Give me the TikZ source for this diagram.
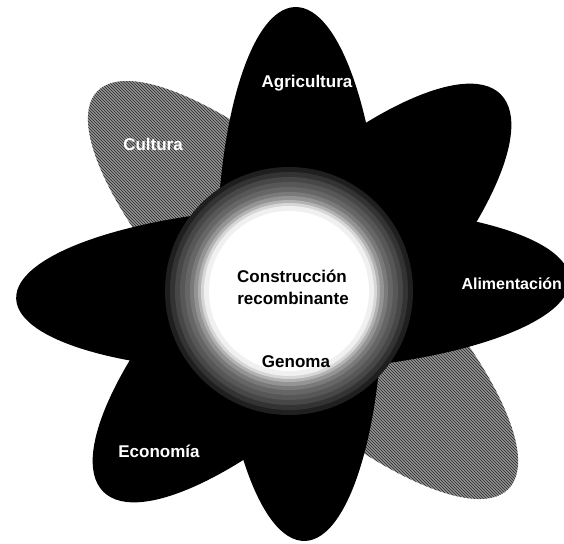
\documentclass[tikz,border=0pt]{standalone}
\usepackage{fontspec}
\setmainfont{Liberation Sans}
\usetikzlibrary{shapes.geometric,patterns}

\begin{document}
\begin{tikzpicture}[x=1pt,y=-1pt]

\tikzset{
  petal/.style={
    ellipse,
    fill=black,
    inner sep=0pt
  },
  hatchpetal/.style={
    ellipse,
    inner sep=0pt,
    preaction={fill=black!42},
    pattern=north west lines,
    pattern color=black!85
  },
  corering/.style={
    circle,
    inner sep=0pt,
    draw=none
  },
  whitelabel/.style={
    white,
    anchor=base,
    font=\fontsize{17}{20}\selectfont\bfseries
  },
  darklabel/.style={
    black,
    anchor=base,
    font=\fontsize{17}{20}\selectfont\bfseries
  }
}

% Page frame
\useasboundingbox (0,0) rectangle (564,543);

% Hatched petals (behind)
\node[hatchpetal, minimum width=572pt, minimum height=180pt, rotate=-44]
  (graydiag) at (303,290) {};

% Black petals
\node[petal, minimum width=534pt, minimum height=166pt, rotate=91]
  (vertical) at (300,274) {};
\node[petal, minimum width=554pt, minimum height=164pt, rotate=2]
  (horizontal) at (293,289) {};
\node[petal, minimum width=562pt, minimum height=186pt, rotate=45]
  (blackdiag) at (302,293) {};

% Centre disc, from the dark rim in to the white core
\foreach \r/\k in {124/88, 119/80, 114/72, 109/66, 104/60, 99/52,
                   95/42, 91/30, 88/16, 85/6, 80/0}{
  \node[corering, minimum size=2*\r pt, fill=black!\k]
    (core\r) at (289,291) {};
}

% Labels
\node[whitelabel] (agri) at (307,87) {Agricultura};
\node[whitelabel] (cult) at (153,150) {Cultura};
\node[whitelabel, anchor=base west, font=\fontsize{16}{19}\selectfont\bfseries]
  (alim) at (458,289) {Alimentación};
\node[whitelabel] (econ) at (159,457) {Economía};

\node[darklabel] (constr) at (292,282) {Construcción};
\node[darklabel] (recomb) at (293,304) {recombinante};
\node[darklabel] (genoma) at (296,367) {Genoma};

\end{tikzpicture}
\end{document}
